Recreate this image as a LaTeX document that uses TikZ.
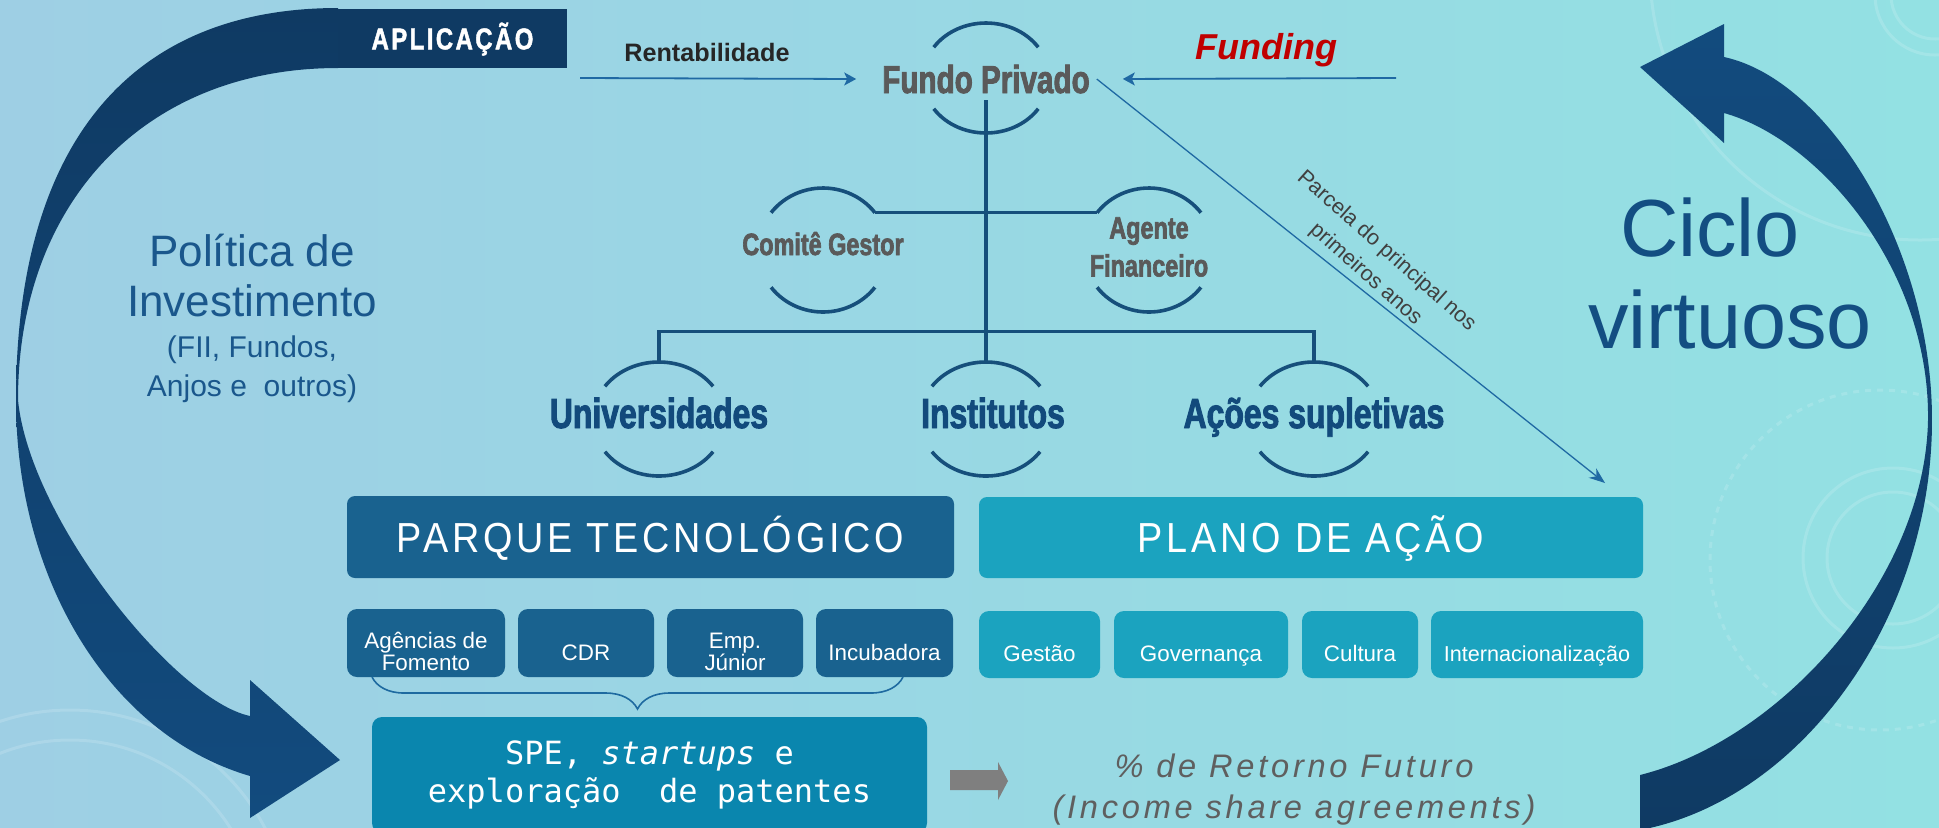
\documentclass[tikz,border=0pt]{standalone}
\usepackage{fontspec}
\setmainfont{Liberation Sans}
\newfontfamily\heavyfont[FakeStretch=0.76,FakeBold=2.2]{Liberation Sans Bold}
\newfontfamily\aplfont[FakeStretch=0.8,FakeBold=1.5,LetterSpace=8]{Liberation Sans Bold}
\newfontfamily\boxfont[FakeStretch=0.9,LetterSpace=9]{Liberation Sans}
\newfontfamily\monofont{DejaVu Sans Mono}
\newfontfamily\retfont[LetterSpace=11.5]{Liberation Sans}
\usetikzlibrary{arrows.meta,shapes.geometric,decorations.pathreplacing}

\definecolor{bgl}{HTML}{9ECFE4}
\definecolor{bgr}{HTML}{93E1E3}
\definecolor{navydark}{HTML}{0F3A63}
\definecolor{navy}{HTML}{124B7E}
\definecolor{treeblue}{HTML}{164F7B}
\definecolor{navytext}{HTML}{124A7C}
\definecolor{fpgray}{HTML}{5A5A5A}
\definecolor{parqueblue}{HTML}{19628F}
\definecolor{planoblue}{HTML}{1BA3BF}
\definecolor{speblue}{HTML}{0A86AE}
\definecolor{arrowblue}{HTML}{1F69A3}
\definecolor{fundred}{HTML}{C00000}
\definecolor{rentgray}{HTML}{262626}
\definecolor{parcgray}{HTML}{404040}
\definecolor{polblue}{HTML}{1A578C}
\definecolor{cicloblue}{HTML}{134E82}
\definecolor{retgray}{HTML}{5F5F5F}
\definecolor{arrowgray}{HTML}{7F7F7F}
\definecolor{braceblue}{HTML}{1E6AA0}

\tikzset{
  ring/.style={ellipse, inner sep=0pt},
  tree/.style={draw=treeblue, line width=1.8pt},
  conn/.style={draw=arrowblue, line width=0.9pt, -{Stealth[length=6pt,width=6.5pt,inset=1.5pt]}},
  bigbox/.style={rounded corners=4pt, text=white, inner sep=0pt, text height=15pt, text depth=0pt, font=\boxfont\fontsize{21}{25}\selectfont},
  smallbox/.style={rounded corners=5pt, text=white, inner sep=0pt, minimum height=34pt, align=center, font=\fontsize{11.2}{11}\selectfont},
  orgname/.style={anchor=base, text=navytext, font=\heavyfont\fontsize{21}{25}\selectfont},
  orglabel/.style={text=fpgray, align=center, font=\heavyfont\fontsize{15.4}{19}\selectfont},
  deco/.style={draw=white, opacity=0.15, line width=1.5pt}
}

\begin{document}
\begin{tikzpicture}[x=0.5pt,y=-0.5pt]
    \useasboundingbox (0,0) rectangle (1939,827);
    \shade[left color=bgl, right color=bgr] (0,0) rectangle (1939,827);

    % faint background rings
    \draw[deco] (1920,-30) circle[radius=135pt];
    \draw[deco] (1935,-5) circle[radius=22pt];
    \draw[deco] (1935,-5) circle[radius=30pt];
    \draw[deco] (1893,558) circle[radius=33pt];
    \draw[deco] (1893,558) circle[radius=45pt];
    \draw[deco, dashed] (1880,560) circle[radius=85pt];
    \draw[deco] (70,930) circle[radius=95pt];
    \draw[deco] (70,930) circle[radius=110pt];

    % big arrows
    \shade[top color=navydark, bottom color=navy] (338,8) .. controls (129,8) and (16,145) .. (16,400)
        .. controls (16,580) and (110,735) .. (250,776) -- (250,818) -- (340,760) -- (250,680) -- (250,716)
        .. controls (175,700) and (30,520) .. (18,400) .. controls (18,201) and (146,68) .. (338,68) -- cycle;
    \shade[top color=navy, bottom color=navydark] (1724,57) .. controls (1830,80) and (1932,250) .. (1932,420)
        .. controls (1932,620) and (1800,800) .. (1640,830) -- (1640,775)
        .. controls (1780,740) and (1925,580) .. (1928,420) .. controls (1930,270) and (1820,140) .. (1724,113)
        -- (1724,143) -- (1640,67) -- (1724,24) -- cycle;

    \node[fill=navydark, text=white, minimum width=114.5pt, minimum height=29.5pt, inner sep=0pt,
          text height=10.8pt, text depth=0pt, font=\aplfont\fontsize{15}{18}\selectfont] (apl) at (452.5,38.5) {APLICAÇÃO};

    % side texts
    \node[anchor=base, text=polblue, font=\fontsize{22}{25}\selectfont] (pol1) at (252,266) {Política de};
    \node[anchor=base, text=polblue, font=\fontsize{22}{25}\selectfont] (pol2) at (252,316) {Investimento};
    \node[anchor=base, text=polblue, font=\fontsize{15}{19}\selectfont] (pol3) at (252,357) {(FII, Fundos,};
    \node[anchor=base, text=polblue, font=\fontsize{15}{19}\selectfont] (pol4) at (252,396) {Anjos e~ outros)};
    \node[anchor=base, text=cicloblue, font=\fontsize{40.5}{46}\selectfont] (cic1) at (1710,256) {Ciclo};
    \node[anchor=base, text=cicloblue, font=\fontsize{40.5}{46}\selectfont] (cic2) at (1730,348) {virtuoso};

    % rings
    \node[ring, minimum width=63pt, minimum height=55pt] (fp) at (986,78) {};
    \node[ring, minimum width=65pt, minimum height=62pt] (cg) at (823,250) {};
    \node[ring, minimum width=65pt, minimum height=62pt] (af) at (1149,250) {};
    \node[ring, minimum width=66pt, minimum height=57pt] (un) at (659,419) {};
    \node[ring, minimum width=66pt, minimum height=57pt] (ins) at (986,419) {};
    \node[ring, minimum width=66pt, minimum height=57pt] (ac) at (1314,419) {};
    \foreach \n/\a/\rx/\ry in {fp/34/31.5/27.5, cg/37/32.5/31, af/37/32.5/31, un/35/33/28.5, ins/35/33/28.5, ac/35/33/28.5}{
        \draw[tree] (\n.center) ++(\a:\rx pt and \ry pt) arc[start angle=\a, end angle=180-\a, x radius=\rx pt, y radius=\ry pt];
        \draw[tree] (\n.center) ++(180+\a:\rx pt and \ry pt) arc[start angle=180+\a, end angle=360-\a, x radius=\rx pt, y radius=\ry pt];
    }

    \node[orgname, text=fpgray, font=\heavyfont\fontsize{19.5}{23}\selectfont] (fpt) at (986,93) {Fundo Privado};
    \node[orglabel, anchor=base] (cgt) at (823,255) {Comitê Gestor};
    \node[orglabel] (aft) at (1149,247) {Agente\\Financeiro};
    \node[orgname] (unt) at (659,428) {Universidades};
    \node[orgname] (inst) at (993,428) {Institutos};
    \node[orgname] (act) at (1314,428) {Ações supletivas};

    % tree
    \path (cg.center) ++(37:32.5pt and 31pt) coordinate (cgr);
    \path (af.center) ++(143:32.5pt and 31pt) coordinate (afl);
    \draw[tree] (fpt.south) -- (ins.north);
    \draw[tree] (cgr) -- (afl);
    \draw[tree] (un.north) -- ++(0,-30) -| (ac.north);

    % funding flows
    \node[anchor=base, text=rentgray, font=\bfseries\fontsize{12.6}{15}\selectfont] (rent) at (707,61) {Rentabilidade};
    \node[anchor=base, text=fundred, font=\bfseries\itshape\fontsize{18}{22}\selectfont] (fund) at (1266,59) {Funding};
    \coordinate (ra) at (580,78);
    \coordinate (fa) at (1396,78);
    \coordinate (pa) at (1605,483);
    \draw[conn, shorten >=9.5pt] (ra) -- (fpt.west);
    \draw[conn, shorten >=13pt] (fa) -- (fpt.east);
    \draw[conn, line width=0.65pt, -{Stealth[length=8pt,width=6pt]}] (fpt.east) -- (pa);
    \node[rotate=-41.5, align=center, text=parcgray, font=\fontsize{10.8}{15.5}\selectfont] (parc) at (1376,263) {Parcela do principal nos\\primeiros anos};

    % boxes
    \node[bigbox, fill=parqueblue, minimum width=303.5pt, minimum height=41pt] (pq) at (650.5,537) {PARQUE TECNOLÓGICO};
    \node[bigbox, fill=planoblue, minimum width=332pt, minimum height=40.5pt] (pl) at (1311,537.5) {PLANO DE AÇÃO};

    \node[smallbox, fill=parqueblue, minimum width=79pt] (ag) at (426,643) {\rule{0pt}{17pt}Agências de\\Fomento};
    \node[smallbox, fill=parqueblue, minimum width=68pt, text height=17pt, text depth=0pt] (cdr) at (586,643) {CDR};
    \node[smallbox, fill=parqueblue, minimum width=68pt] (emp) at (735,643) {\rule{0pt}{17pt}Emp.\\Júnior};
    \node[smallbox, fill=parqueblue, minimum width=68.5pt, text height=17pt, text depth=0pt] (inc) at (884.5,643) {Incubadora};
    \node[smallbox, fill=planoblue, minimum width=60.5pt, minimum height=33.5pt, text height=17pt, text depth=0pt] (ges) at (1039.5,644.5) {Gestão};
    \node[smallbox, fill=planoblue, minimum width=87pt, minimum height=33.5pt, text height=17pt, text depth=0pt] (gov) at (1201,644.5) {Governança};
    \node[smallbox, fill=planoblue, minimum width=58pt, minimum height=33.5pt, text height=17pt, text depth=0pt] (cul) at (1360,644.5) {Cultura};
    \node[smallbox, fill=planoblue, minimum width=106pt, minimum height=33.5pt, text height=17pt, text depth=0pt,
          font=\fontsize{10.8}{11}\selectfont] (int) at (1537,644.5) {Internacionalização};

    \coordinate (bl) at (372,677);
    \coordinate (br) at (903,677);
    \draw[braceblue, line width=0.8pt, decorate, decoration={brace, mirror, amplitude=16pt}] (bl) -- (br);

    \node[fill=speblue, rounded corners=5pt, minimum width=277.5pt, minimum height=58pt, inner sep=0pt, text=white,
          align=center, font=\monofont\fontsize{16}{19}\selectfont] (spe) at (649.5,775) {SPE, \textit{startups} e\\exploração~ de patentes};

    \fill[arrowgray] (950,770) -- (998,770) -- (998,762) -- (1008,781) -- (998,800) -- (998,790) -- (950,790) -- cycle;

    \node[anchor=base, text=retgray, font=\retfont\itshape\fontsize{16.3}{19}\selectfont] (ret1) at (1294,777) {\% de Retorno Futuro};
    \node[anchor=base, text=retgray, font=\retfont\itshape\fontsize{16.3}{19}\selectfont] (ret2) at (1294,818) {(Income share agreements)};
\end{tikzpicture}
\end{document}
